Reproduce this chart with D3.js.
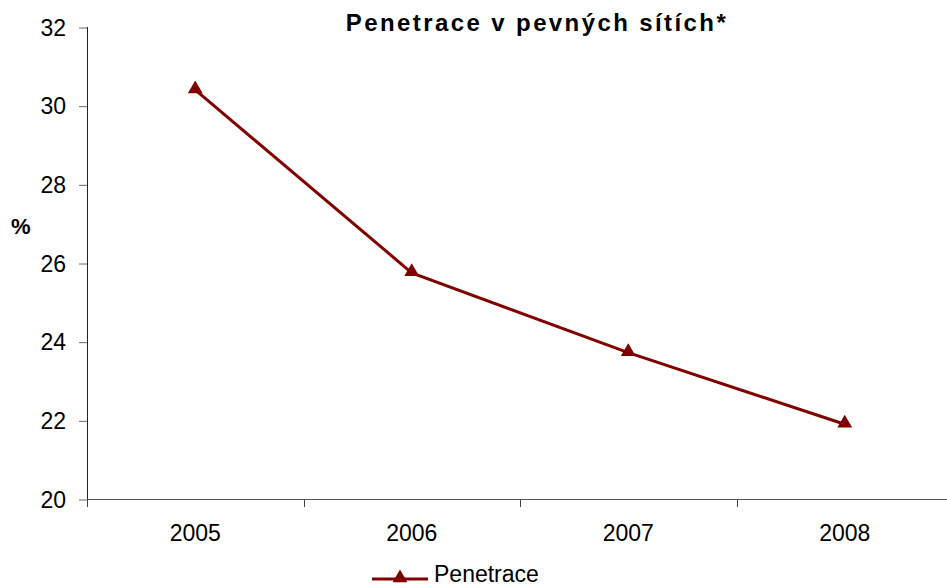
<!DOCTYPE html>
<html>
<head>
<meta charset="utf-8">
<script src="https://cdn.jsdelivr.net/npm/d3@7"></script>
<style>
    body { margin: 0; background: #fff; }
    svg { display: block; font-family: "Liberation Sans", Arial, sans-serif; }
    .chartTitle { font-size: 24px; font-weight: bold; letter-spacing: 2.4px; text-anchor: middle; }
    .axis text { font-size: 23px; fill: #000; }
    .axis .domain { display: none; }
    .yUnit { font-size: 22px; font-weight: bold; }
    .series { fill: none; stroke: #800000; stroke-width: 3px; }
    .marker { fill: #800000; }
    .legend text { font-size: 23px; }
</style>
</head>
<body>
<script>
'use strict';

const years = ['2005', '2006', '2007', '2008'];
const penetrace = [30.4, 25.75, 23.72, 21.9];
const yTicks = [20, 22, 24, 26, 28, 30, 32];
const seriesName = 'Penetrace';
const chartTitle = 'Penetrace v pevných sítích*';

(function () {

    function getPlotArea() {
        return {
            svg: { width: 947, height: 587 },
            left: 87,
            right: 953,   // the category axis runs slightly past the window edge
            top: 27,
            bottom: 499
        };
    }

    function makeScales(plot) {
        return {
            x: d3.scaleBand()
                .domain(years)
                .range([plot.left, plot.right])
                .padding(0),
            y: d3.scaleLinear()
                .domain([20, 32])
                .range([plot.bottom, plot.top])
        };
    }

    function appendAxes(svg, plot, scales) {
        // value axis
        const yAxis = svg.append('g')
            .attr('class', 'axis')
            .attr('transform', 'translate(' + plot.left + ',0)')
            .call(d3.axisLeft(scales.y).tickValues(yTicks).tickSize(8).tickPadding(13));
        yAxis.selectAll('.tick line').attr('stroke', '#666').attr('transform', 'translate(0,0.5)');
        yAxis.selectAll('.tick text').attr('dy', '0.36em');
        svg.append('line')
            .attr('x1', plot.left + 0.5).attr('x2', plot.left + 0.5)
            .attr('y1', plot.top).attr('y2', plot.bottom)
            .attr('stroke', '#222');

        // category axis
        const xAxis = svg.append('g')
            .attr('class', 'axis')
            .attr('transform', 'translate(0,' + plot.bottom + ')')
            .call(d3.axisBottom(scales.x).tickSize(0).tickPadding(26));
        xAxis.selectAll('.tick text').attr('dy', '0.71em');
        svg.append('line')
            .attr('x1', plot.left).attr('x2', plot.right)
            .attr('y1', plot.bottom + 0.5).attr('y2', plot.bottom + 0.5)
            .attr('stroke', '#555');
        const edges = years.map((d) => scales.x(d)).concat([plot.right]);
        svg.selectAll('.xEdge')
            .data(edges)
            .enter()
            .append('line')
            .attr('class', 'xEdge')
            .attr('x1', (d) => Math.round(d) + 0.5)
            .attr('x2', (d) => Math.round(d) + 0.5)
            .attr('y1', plot.bottom)
            .attr('y2', plot.bottom + 8)
            .attr('stroke', '#444');

        svg.append('text')
            .attr('class', 'yUnit')
            .attr('x', 11)
            .attr('y', 234)
            .text('%');
    }

    function triangle(size) {
        return d3.symbol().type(d3.symbolTriangle).size(size)();
    }

    function appendSeries(svg, scales) {
        const cx = (d, i) => scales.x(years[i]) + scales.x.bandwidth() / 2;
        const line = d3.line()
            .x(cx)
            .y((d) => scales.y(d));
        svg.append('path')
            .datum(penetrace)
            .attr('class', 'series')
            .attr('d', line);
        svg.selectAll('.marker')
            .data(penetrace)
            .enter()
            .append('path')
            .attr('class', 'marker')
            .attr('d', triangle(95))
            .attr('transform', (d, i) => 'translate(' + cx(d, i) + ',' + (scales.y(d) - 1) + ')');
    }

    function appendTitle(svg) {
        svg.append('text')
            .attr('class', 'chartTitle')
            .attr('x', 537)
            .attr('y', 31)
            .text(chartTitle);
    }

    function appendLegend(svg) {
        const g = svg.append('g')
            .attr('class', 'legend')
            .attr('transform', 'translate(372,579)');
        g.append('line')
            .attr('x1', 0).attr('x2', 56)
            .attr('y1', 0).attr('y2', 0)
            .attr('stroke', '#800000')
            .attr('stroke-width', 3);
        g.append('path')
            .attr('class', 'marker')
            .attr('d', triangle(95))
            .attr('transform', 'translate(28,-1)');
        g.append('text')
            .attr('x', 62)
            .attr('y', 3)
            .text(seriesName);
    }

    function draw() {
        const plot = getPlotArea();
        const svg = d3.select('body').append('svg')
            .attr('width', plot.svg.width)
            .attr('height', plot.svg.height);
        const scales = makeScales(plot);
        appendAxes(svg, plot, scales);
        appendSeries(svg, scales);
        appendTitle(svg);
        appendLegend(svg);
    }

    draw();

})();
</script>
</body>
</html>
